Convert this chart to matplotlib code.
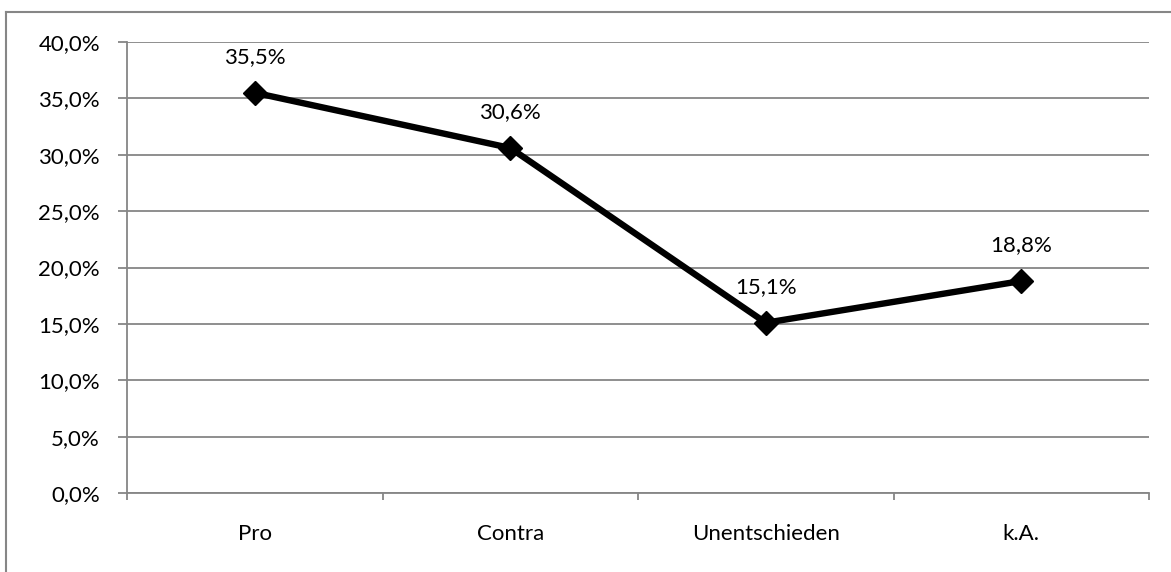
import matplotlib
matplotlib.use("Agg")
import matplotlib.pyplot as plt
from matplotlib.lines import Line2D
from matplotlib.ticker import FixedLocator, FuncFormatter

categories = ["Pro", "Contra", "Unentschieden", "k.A."]
values = [35.5, 30.6, 15.1, 18.8]
y_ticks = [0, 5, 10, 15, 20, 25, 30, 35, 40]

W, H = 1171, 572
fig = plt.figure(figsize=(W / 100, H / 100), dpi=100)
plt.rcParams['font.family'] = ['Lato', 'DejaVu Sans']
FS = 16

# outer chart border (cropped on right/bottom)
grey = "#868686"
fig.add_artist(Line2D([6 / W, 6 / W], [0, 1 - 12 / H], color=grey, lw=1.5, transform=fig.transFigure))
fig.add_artist(Line2D([6 / W, 1], [1 - 12 / H, 1 - 12 / H], color=grey, lw=1.5, transform=fig.transFigure))

ax = fig.add_axes([127 / W, 1 - 493 / H, (1149 - 127) / W, (493 - 42) / H])
x = list(range(len(categories)))
ax.plot(x, values, color="black", lw=4.6, marker="D", markersize=12, zorder=3, clip_on=False)

for xi, v in zip(x, values):
    ax.annotate(f"{v:.1f}%".replace(".", ","), (xi, v), xytext=(0, 26), textcoords="offset points",
                ha="center", va="center", fontsize=FS, color="#000000")

ax.set_xlim(-0.5, len(categories) - 0.5)
ax.set_ylim(0, 40)
ax.set_yticks(y_ticks)
ax.yaxis.set_major_formatter(FuncFormatter(lambda v, p: f"{v:.1f}%".replace(".", ",")))
ax.grid(axis="y", color=grey, lw=1.3)
ax.set_axisbelow(True)

ax.xaxis.set_major_locator(FixedLocator([i - 0.5 for i in range(len(categories) + 1)]))
ax.xaxis.set_major_formatter(FuncFormatter(lambda v, p: ""))
ax.xaxis.set_minor_locator(FixedLocator(x))
ax.set_xticklabels(categories, minor=True)
ax.tick_params(axis="x", which="major", length=5, color=grey, width=1.3, direction="out")
ax.tick_params(axis="x", which="minor", length=0, pad=22.5, labelsize=FS)
ax.tick_params(axis="y", length=6.5, color=grey, width=1.3, direction="out", pad=13, labelsize=FS)

for s in ["top", "right"]:
    ax.spines[s].set_visible(False)
for s in ["left", "bottom"]:
    ax.spines[s].set_color(grey)
    ax.spines[s].set_linewidth(1.3)

fig.savefig("out.png", dpi=100)
